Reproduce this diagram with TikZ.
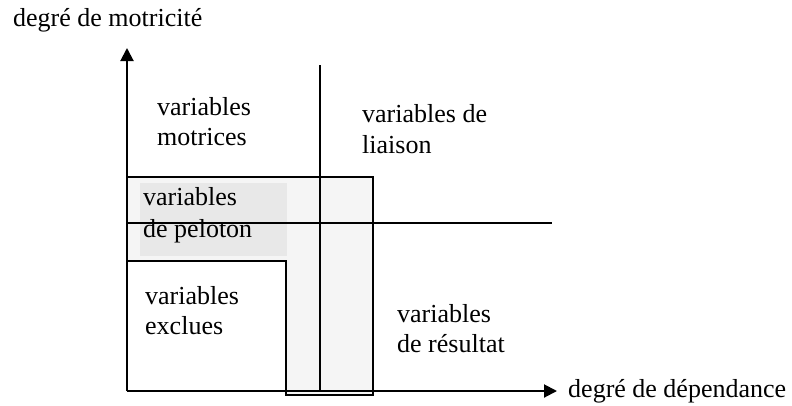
\documentclass[tikz,border=0pt]{standalone}
\usepackage{fontspec}
\setmainfont{Liberation Serif}
\usetikzlibrary{arrows.meta}
\tikzset{
  lbl/.style={anchor=base west, inner sep=0pt, align=left, font=\fontsize{26}{30}\selectfont},
  axis/.style={line width=2pt, -{Triangle[length=13pt,width=13pt]}},
  thin line/.style={line width=1.6pt},
}
\begin{document}
\begin{tikzpicture}[x=1pt,y=-1pt]
\useasboundingbox (0,0) rectangle (792,405);
% peloton L-shaped area
\fill[black!4] (128,177) -- (373,177) -- (373,395) -- (286,395) -- (286,261) -- (128,261) -- cycle;
\fill[black!9] (140,183) rectangle (287,256);
\draw[thin line] (128,177) -- (373,177) -- (373,395) -- (286,395) -- (286,261) -- (128,261);
% axes
\coordinate (O) at (127,391);
\coordinate (ytip) at (127,48);
\coordinate (xtip) at (557,391);
\draw[axis] (O) -- (ytip);
\draw[axis] (O) -- (xtip);
% dividing lines
\coordinate (vtop) at (320,65);
\coordinate (vbot) at (320,391);
\coordinate (hl) at (127,223);
\coordinate (hr) at (552,223);
\draw[thin line] (vtop) -- (vbot);
\draw[thin line] (hl) -- (hr);
% labels (base anchor = last line's baseline)
\node[lbl] (ty) at (13,26) {degré de motricité};
\node[lbl] (tx) at (568,397) {degré de dépendance};
\node[lbl] (mot) at (157,145) {variables\\motrices};
\node[lbl] (lia) at (362,153) {variables de\\[1pt]liaison};
\node[lbl] (pel) at (143,237) {variables\\[2pt]de peloton};
\node[lbl] (exc) at (145,334) {variables\\exclues};
\node[lbl] (res) at (397,352) {variables\\de résultat};
\end{tikzpicture}
\end{document}
